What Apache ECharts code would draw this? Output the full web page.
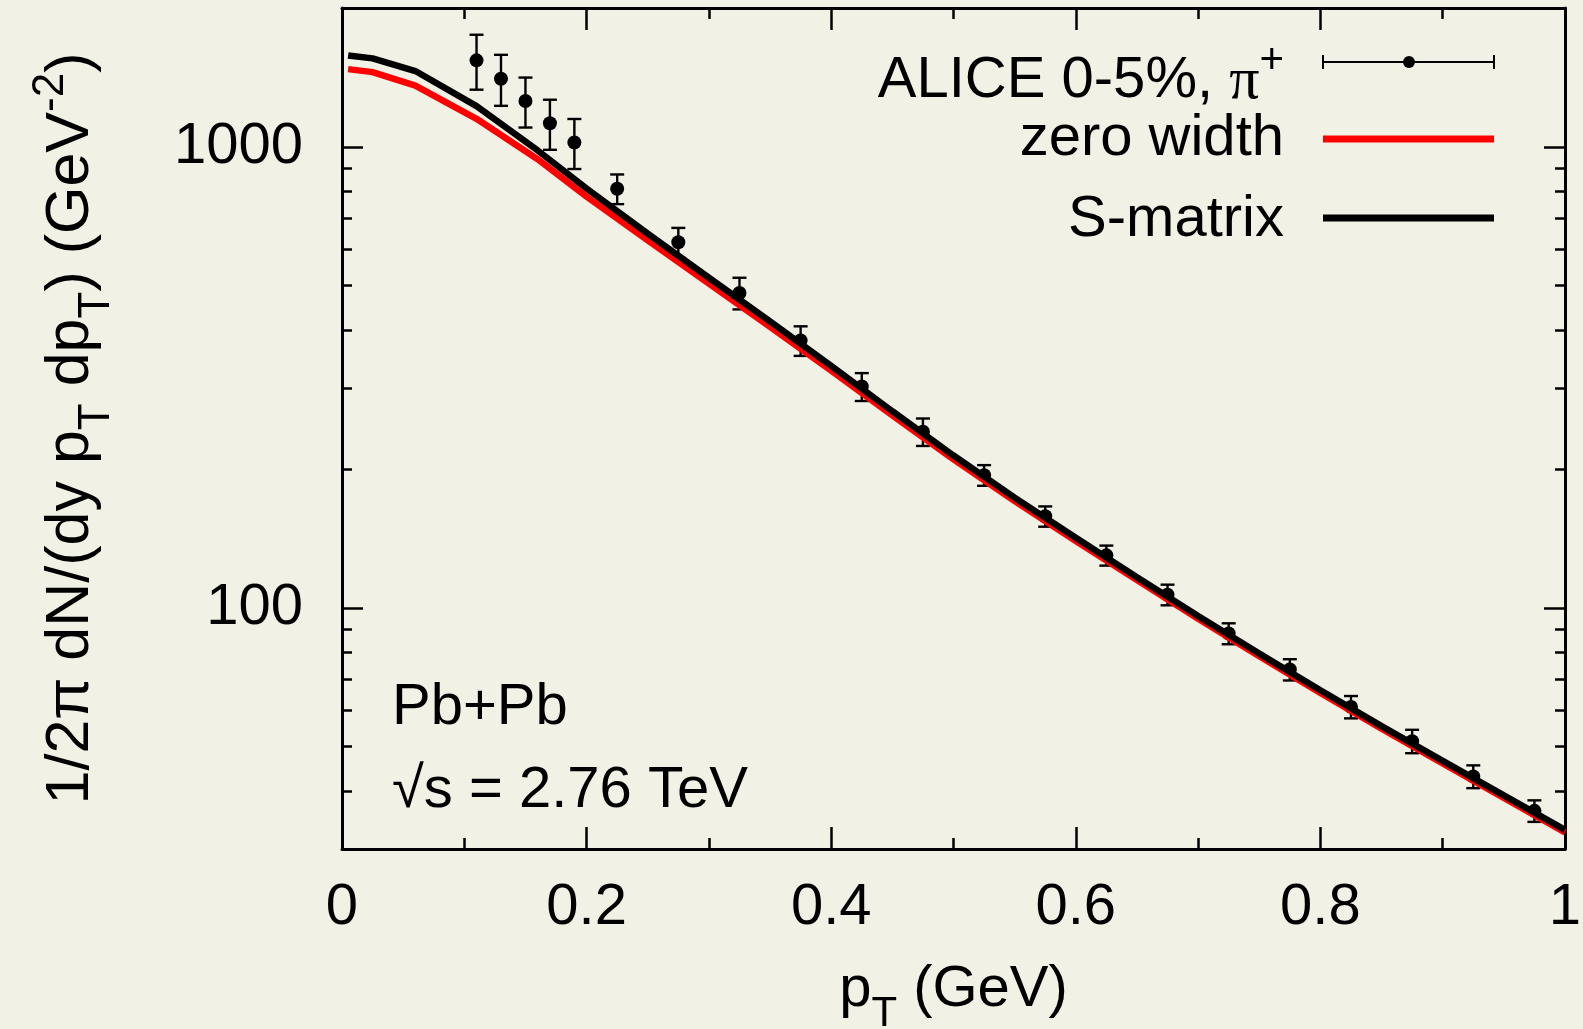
<!DOCTYPE html>
<html>
<head>
<meta charset="utf-8">
<title>pion spectrum</title>
<script src="https://cdn.jsdelivr.net/npm/echarts@6/dist/echarts.min.js"></script>
<style>
    html, body {
        margin: 0;
        padding: 0;
        background: #f2f1e5;
    }
    #chart {
        width: 1583px;
        height: 1029px;
    }
</style>
</head>
<body>
<div id="chart"></div>
<script>
// ALICE 0-5% pi+ data
var alicePt = [0.11, 0.13, 0.15, 0.17, 0.19, 0.225, 0.275, 0.325, 0.375, 0.425, 0.475,
    0.525, 0.575, 0.625, 0.675, 0.725, 0.775, 0.825, 0.875, 0.925, 0.975];
var aliceYield = [1540, 1405, 1257, 1125, 1022, 811, 621, 482, 380, 302, 241,
    194, 158, 130, 106.8, 88, 73.5, 61, 51.4, 43.1, 36.3];
var aliceErr = [210, 178, 156, 140, 127, 60, 46, 38, 28, 21, 16.5,
    10, 8, 6.5, 5.5, 4.6, 3.9, 3.4, 3, 2.45, 1.95];

// model curves
var curvePt = [0.005, 0.025, 0.06, 0.11, 0.16, 0.2, 0.25, 0.3, 0.35, 0.4, 0.45,
    0.5, 0.55, 0.6, 0.65, 0.7, 0.75, 0.8, 0.85, 0.9, 0.95, 1.0];
var zeroWidth = [1474, 1452, 1358, 1150, 940, 780, 627, 505, 407, 327, 261.5,
    210, 170.5, 139.6, 114.9, 94.7, 78.6, 65.4, 54.7, 46.0, 38.7, 32.6];
var sMatrix = [1578, 1555, 1460, 1225, 982, 812, 648, 520, 418, 335, 267,
    214, 173.4, 141.9, 116.6, 96, 79.6, 66.3, 55.4, 46.6, 39.2, 33.0];

var yMajorTicks = [100, 1000];
var yMinorTicks = [40, 50, 60, 70, 80, 90, 200, 300, 400, 500, 600, 700, 800, 900, 2000];

var FONT = "'Liberation Sans', Arial, sans-serif";

function richOf(size) {
    var small = Math.round(size * 0.72);
    var top = 12;
    var subPad = Math.round(top + size / 2 + size * 0.41 - small / 2);
    return {
        m: { fontSize: size, lineHeight: size, verticalAlign: "top", padding: [top, 0, 0, 0], fontFamily: FONT, color: "#000" },
        sub: { fontSize: small, lineHeight: small, verticalAlign: "top", padding: [subPad, 0, 0, 0], fontFamily: FONT, color: "#000" },
        sup: { fontSize: small, lineHeight: small, verticalAlign: "top", padding: [0, 0, 0, 0], fontFamily: FONT, color: "#000" },
        pi: { fontSize: size + 2, lineHeight: size, verticalAlign: "top", padding: [top, 0, 0, 0], fontFamily: "'Liberation Serif', serif", color: "#000" },
    };
}

function zip(xs, ys) {
    return xs.map(function (x, i) { return [x, ys[i]]; });
}

var myChart = echarts.init(document.getElementById("chart"), null, { renderer: "canvas" });

function yAxisOf(position, ticks, len, labels) {
    return {
        type: "log",
        logBase: 10,
        min: 30,
        max: 2000,
        position: position,
        splitLine: { show: false },
        minorTick: { show: false },
        axisLine: { show: labels, lineStyle: { color: "#000", width: 3 } },
        axisTick: {
            show: true, inside: true, length: len, customValues: ticks,
            lineStyle: { color: "#000", width: 2.5 },
        },
        axisLabel: labels && position === "left" ? {
            show: true, customValues: ticks, margin: 39,
            fontSize: 58, fontFamily: FONT, color: "#000",
            formatter: function (v) { return String(v); },
        } : { show: false },
    };
}

function xAxisOf(position) {
    return {
        type: "value",
        min: 0,
        max: 1,
        interval: 0.2,
        position: position,
        splitLine: { show: false },
        axisLine: { show: true, onZero: false, lineStyle: { color: "#000", width: 3 } },
        axisTick: { show: true, inside: true, length: 22, lineStyle: { color: "#000", width: 2.5 } },
        minorTick: { show: true, splitNumber: 2, length: 11, lineStyle: { color: "#000", width: 2.5 } },
        axisLabel: position === "bottom" ? {
            show: true, margin: 30, fontSize: 58, lineHeight: 58,
            fontFamily: FONT, color: "#000", showMinLabel: true, showMaxLabel: true,
        } : { show: false },
    };
}

var xBottom = xAxisOf("bottom");
xBottom.name = "{m|p}{sub|T}{m| (GeV)}";
xBottom.nameLocation = "middle";
xBottom.nameGap = 100;
xBottom.nameTextStyle = { rich: richOf(58) };

var yLeft = yAxisOf("left", yMajorTicks, 21, true);
yLeft.name = "{m|1/2π dN/(dy p}{sub|T}{m| dp}{sub|T}{m|) (GeV}{sup|-2}{m|)}";
yLeft.nameLocation = "middle";
yLeft.nameRotate = 90;
yLeft.nameGap = 252;
yLeft.nameTextStyle = { rich: richOf(61) };

var errData = alicePt.map(function (x, i) {
    return [x, aliceYield[i] - aliceErr[i], aliceYield[i] + aliceErr[i]];
});

var legendRich = richOf(58);

var option = {
    backgroundColor: "#f2f1e5",
    animation: false,
    grid: {
        left: 342,
        right: 18,
        top: 8,
        bottom: 180,
        containLabel: false,
        outerBoundsMode: "none",
    },
    xAxis: [xBottom, xAxisOf("top")],
    yAxis: [
        yLeft,
        yAxisOf("left", yMinorTicks, 10, false),
        yAxisOf("right", yMajorTicks, 21, true),
        yAxisOf("right", yMinorTicks, 10, false),
    ],
    series: [
        {
            name: "ALICE 0-5%, π+ errors",
            type: "custom",
            z: 2,
            data: errData,
            renderItem: function (params, api) {
                var lo = api.coord([api.value(0), api.value(1)]);
                var hi = api.coord([api.value(0), api.value(2)]);
                var hw = 7;
                var st = { stroke: "#000", lineWidth: 2.4 };
                return {
                    type: "group",
                    children: [
                        { type: "line", shape: { x1: lo[0], y1: lo[1], x2: hi[0], y2: hi[1] }, style: st },
                        { type: "line", shape: { x1: lo[0] - hw, y1: lo[1], x2: lo[0] + hw, y2: lo[1] }, style: st },
                        { type: "line", shape: { x1: hi[0] - hw, y1: hi[1], x2: hi[0] + hw, y2: hi[1] }, style: st },
                    ],
                };
            },
        },
        {
            name: "ALICE 0-5%, π+",
            type: "scatter",
            z: 2,
            symbol: "circle",
            symbolSize: 14,
            itemStyle: { color: "#000", opacity: 1 },
            data: zip(alicePt, aliceYield),
        },
        {
            name: "zero width",
            type: "line",
            z: 3,
            showSymbol: false,
            symbol: "none",
            lineStyle: { color: "#ff0000", width: 6.5 },
            data: zip(curvePt, zeroWidth),
        },
        {
            name: "S-matrix",
            type: "line",
            z: 4,
            showSymbol: false,
            symbol: "none",
            lineStyle: { color: "#000", width: 6.5 },
            data: zip(curvePt, sMatrix),
        },
    ],
    graphic: [
        // legend
        {
            type: "text", x: 1284, y: 69,
            style: { text: "{m|ALICE 0-5%, }{pi|π}{sup|+}", rich: legendRich, align: "right", verticalAlign: "middle" },
        },
        {
            type: "text", x: 1284, y: 139,
            style: { text: "zero width", font: "58px " + FONT, fill: "#000", align: "right", verticalAlign: "middle" },
        },
        {
            type: "text", x: 1284, y: 220,
            style: { text: "S-matrix", font: "58px " + FONT, fill: "#000", align: "right", verticalAlign: "middle" },
        },
        { type: "line", shape: { x1: 1323, y1: 62, x2: 1494, y2: 62 }, style: { stroke: "#000", lineWidth: 2 } },
        { type: "line", shape: { x1: 1323, y1: 55, x2: 1323, y2: 69 }, style: { stroke: "#000", lineWidth: 2 } },
        { type: "line", shape: { x1: 1494, y1: 55, x2: 1494, y2: 69 }, style: { stroke: "#000", lineWidth: 2 } },
        { type: "circle", shape: { cx: 1409, cy: 62, r: 6 }, style: { fill: "#000" } },
        { type: "line", shape: { x1: 1323, y1: 139, x2: 1494, y2: 139 }, style: { stroke: "#ff0000", lineWidth: 7 } },
        { type: "line", shape: { x1: 1323, y1: 218, x2: 1494, y2: 218 }, style: { stroke: "#000", lineWidth: 7 } },
        // annotation
        {
            type: "text", x: 392, y: 708,
            style: { text: "Pb+Pb", font: "58px " + FONT, fill: "#000", align: "left", verticalAlign: "middle" },
        },
        {
            type: "text", x: 392, y: 791,
            style: { text: "√s = 2.76 TeV", font: "58px " + FONT, fill: "#000", align: "left", verticalAlign: "middle" },
        },
    ],
};

myChart.setOption(option);
window.addEventListener("resize", function () {
    myChart.resize();
});
</script>
</body>
</html>
